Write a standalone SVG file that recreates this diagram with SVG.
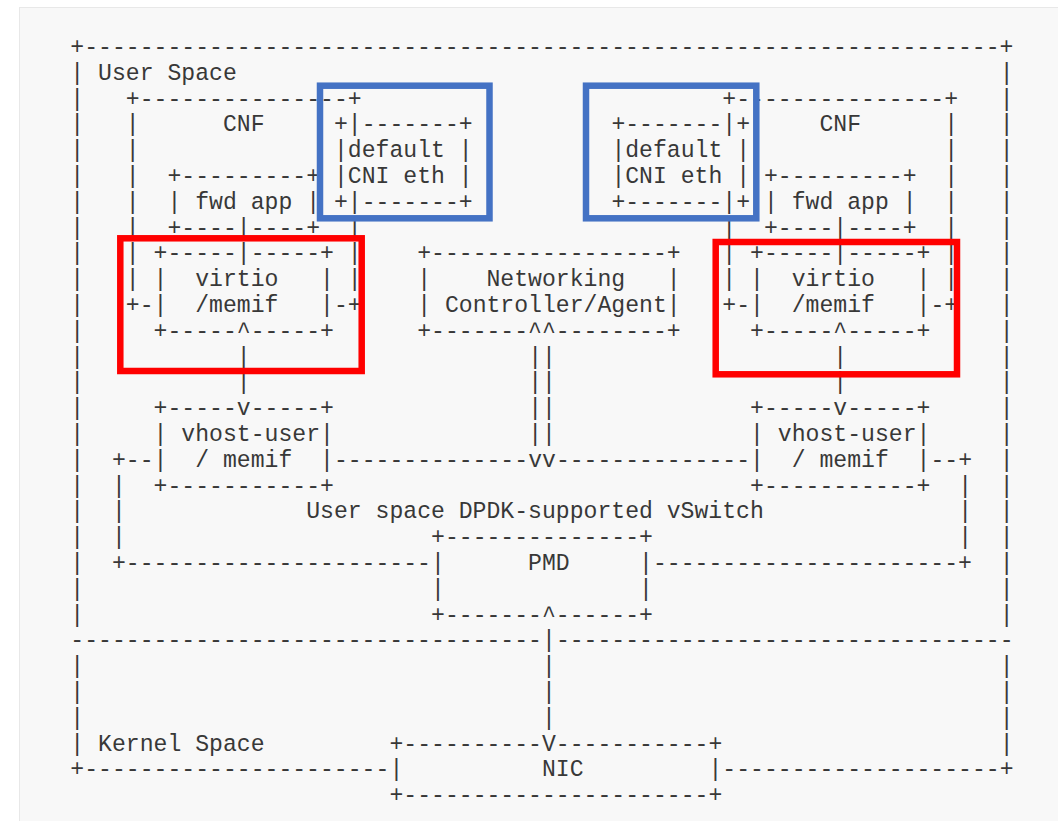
<svg xmlns="http://www.w3.org/2000/svg" width="1058" height="821" viewBox="0 0 1058 821" xml:space="preserve">
<style>
text{font-family:"Liberation Mono","DejaVu Sans Mono",monospace;font-size:23.12px;fill:#383838;white-space:pre}
.hl{fill:none;stroke-width:6.5}
.blue{stroke:#4472C4}
.red{stroke:#FF0000}
</style>
<rect x="0" y="0" width="1058" height="821" fill="#ffffff"/>
<rect x="19.5" y="7.5" width="1045" height="820" fill="#f8f8f8" stroke="#e8e8e8"/>
<g id="frame">
<text x="70.37" y="54">+------------------------------------------------------------------+</text>
<text x="98.11" y="79.8">User Space</text>
<text x="98.11" y="750.6">Kernel Space</text>
<text><tspan x="70.37" y="79.8">|</tspan><tspan x="70.37" y="105.6">|</tspan><tspan x="70.37" y="131.4">|</tspan><tspan x="70.37" y="157.2">|</tspan><tspan x="70.37" y="183">|</tspan><tspan x="70.37" y="208.8">|</tspan><tspan x="70.37" y="234.6">|</tspan><tspan x="70.37" y="260.4">|</tspan><tspan x="70.37" y="286.2">|</tspan><tspan x="70.37" y="312">|</tspan><tspan x="70.37" y="337.8">|</tspan><tspan x="70.37" y="363.6">|</tspan><tspan x="70.37" y="389.4">|</tspan><tspan x="70.37" y="415.2">|</tspan><tspan x="70.37" y="441">|</tspan><tspan x="70.37" y="466.8">|</tspan><tspan x="70.37" y="492.6">|</tspan><tspan x="70.37" y="518.4">|</tspan><tspan x="70.37" y="544.2">|</tspan><tspan x="70.37" y="570">|</tspan><tspan x="70.37" y="595.8">|</tspan><tspan x="70.37" y="621.6">|</tspan><tspan x="70.37" y="673.2">|</tspan><tspan x="70.37" y="699">|</tspan><tspan x="70.37" y="724.8">|</tspan><tspan x="70.37" y="750.6">|</tspan></text>
<text><tspan x="999.79" y="79.8">|</tspan><tspan x="999.79" y="105.6">|</tspan><tspan x="999.79" y="131.4">|</tspan><tspan x="999.79" y="157.2">|</tspan><tspan x="999.79" y="183">|</tspan><tspan x="999.79" y="208.8">|</tspan><tspan x="999.79" y="234.6">|</tspan><tspan x="999.79" y="260.4">|</tspan><tspan x="999.79" y="286.2">|</tspan><tspan x="999.79" y="312">|</tspan><tspan x="999.79" y="337.8">|</tspan><tspan x="999.79" y="363.6">|</tspan><tspan x="999.79" y="389.4">|</tspan><tspan x="999.79" y="415.2">|</tspan><tspan x="999.79" y="441">|</tspan><tspan x="999.79" y="466.8">|</tspan><tspan x="999.79" y="492.6">|</tspan><tspan x="999.79" y="518.4">|</tspan><tspan x="999.79" y="544.2">|</tspan><tspan x="999.79" y="570">|</tspan><tspan x="999.79" y="595.8">|</tspan><tspan x="999.79" y="621.6">|</tspan><tspan x="999.79" y="673.2">|</tspan><tspan x="999.79" y="699">|</tspan><tspan x="999.79" y="724.8">|</tspan><tspan x="999.79" y="750.6">|</tspan></text>
<text x="70.37" y="647.4">----------------------------------</text>
<text x="555.89" y="647.4">---------------------------------</text>
<text x="70.37" y="776.4">+----------------------</text>
<text x="722.35" y="776.4">--------------------+</text>
</g>
<g id="cnf-left">
<text x="125.86" y="105.6">+---------------+</text>
<text x="222.96" y="131.4">CNF</text>
<text><tspan x="125.86" y="131.4">|</tspan><tspan x="125.86" y="157.2">|</tspan><tspan x="125.86" y="183">|</tspan><tspan x="125.86" y="208.8">|</tspan><tspan x="125.86" y="234.6">|</tspan><tspan x="125.86" y="260.4">|</tspan><tspan x="125.86" y="286.2">|</tspan><tspan x="125.86" y="312">+-</tspan></text>
<text><tspan x="347.81" y="234.6">|</tspan><tspan x="347.81" y="260.4">|</tspan><tspan x="347.81" y="286.2">|</tspan><tspan x="333.94" y="312">-+</tspan></text>
</g>
<g id="cni-left">
<text x="333.94" y="131.4">+|-------+</text>
<text x="333.94" y="157.2">|default |</text>
<text x="333.94" y="183">|CNI eth |</text>
<text x="333.94" y="208.8">+|-------+</text>
</g>
<g id="fwd-left">
<text x="167.47" y="183">+---------+</text>
<text x="167.47" y="208.8">| fwd app |</text>
<text x="167.47" y="234.6">+----|----+</text>
</g>
<g id="virtio-left">
<text x="153.60" y="260.4">+-----|-----+</text>
<text x="153.60" y="286.2">|  virtio   |</text>
<text x="153.60" y="312">|  /memif   |</text>
<text x="153.60" y="337.8">+-----^-----+</text>
</g>
<g id="vhost-left">
<text x="153.60" y="415.2">+-----v-----+</text>
<text x="153.60" y="441">| vhost-user|</text>
<text x="153.60" y="466.8">|  / memif  |</text>
<text x="153.60" y="492.6">+-----------+</text>
</g>
<g id="networking-controller">
<text x="417.17" y="260.4">+-----------------+</text>
<text x="417.17" y="286.2">|    Networking   |</text>
<text x="417.17" y="312">| Controller/Agent|</text>
<text x="417.17" y="337.8">+-------^^--------+</text>
</g>
<g id="cnf-right">
<text x="722.35" y="105.6">+---------------+</text>
<text x="819.46" y="131.4">CNF</text>
<text><tspan x="944.31" y="131.4">|</tspan><tspan x="944.31" y="157.2">|</tspan><tspan x="944.31" y="183">|</tspan><tspan x="944.31" y="208.8">|</tspan><tspan x="944.31" y="234.6">|</tspan><tspan x="944.31" y="260.4">|</tspan><tspan x="944.31" y="286.2">|</tspan><tspan x="930.43" y="312">-+</tspan></text>
<text><tspan x="722.35" y="234.6">|</tspan><tspan x="722.35" y="260.4">|</tspan><tspan x="722.35" y="286.2">|</tspan><tspan x="722.35" y="312">+-</tspan></text>
</g>
<g id="cni-right">
<text x="611.38" y="131.4">+-------|+</text>
<text x="611.38" y="157.2">|default |</text>
<text x="611.38" y="183">|CNI eth |</text>
<text x="611.38" y="208.8">+-------|+</text>
</g>
<g id="fwd-right">
<text x="763.97" y="183">+---------+</text>
<text x="763.97" y="208.8">| fwd app |</text>
<text x="763.97" y="234.6">+----|----+</text>
</g>
<g id="virtio-right">
<text x="750.10" y="260.4">+-----|-----+</text>
<text x="750.10" y="286.2">|  virtio   |</text>
<text x="750.10" y="312">|  /memif   |</text>
<text x="750.10" y="337.8">+-----^-----+</text>
</g>
<g id="vhost-right">
<text x="750.10" y="415.2">+-----v-----+</text>
<text x="750.10" y="441">| vhost-user|</text>
<text x="750.10" y="466.8">|  / memif  |</text>
<text x="750.10" y="492.6">+-----------+</text>
</g>
<g id="vswitch">
<text x="111.99" y="466.8">+--</text>
<text x="930.43" y="466.8">--+</text>
<text x="333.94" y="466.8">--------------</text>
<text x="555.89" y="466.8">--------------</text>
<text><tspan x="111.99" y="492.6">|</tspan><tspan x="111.99" y="518.4">|</tspan><tspan x="111.99" y="544.2">|</tspan></text>
<text><tspan x="958.18" y="492.6">|</tspan><tspan x="958.18" y="518.4">|</tspan><tspan x="958.18" y="544.2">|</tspan></text>
<text x="306.19" y="518.4">User space DPDK-supported vSwitch</text>
<text x="111.99" y="570">+----------------------</text>
<text x="653.00" y="570">----------------------+</text>
</g>
<g id="pmd">
<text x="431.04" y="544.2">+--------------+</text>
<text x="431.04" y="570">|      PMD     |</text>
<text x="431.04" y="595.8">|              |</text>
<text x="431.04" y="621.6">+-------^------+</text>
</g>
<g id="nic">
<text x="389.43" y="750.6">+----------V-----------+</text>
<text x="389.43" y="776.4">|          NIC         |</text>
<text x="389.43" y="802.2">+----------------------+</text>
</g>
<g id="connectors">
<text><tspan x="236.83" y="363.6">|</tspan><tspan x="236.83" y="389.4">|</tspan></text>
<text><tspan x="833.33" y="363.6">|</tspan><tspan x="833.33" y="389.4">|</tspan></text>
<text><tspan x="528.15" y="363.6">||</tspan><tspan x="528.15" y="389.4">||</tspan><tspan x="528.15" y="415.2">||</tspan><tspan x="528.15" y="441">||</tspan><tspan x="528.15" y="466.8">vv</tspan></text>
<text><tspan x="542.02" y="647.4">|</tspan><tspan x="542.02" y="673.2">|</tspan><tspan x="542.02" y="699">|</tspan><tspan x="542.02" y="724.8">|</tspan></text>
</g>
<g id="highlights">
<rect class="hl blue" x="320" y="85.7" width="169.5" height="132.6"/>
<rect class="hl blue" x="586" y="85.7" width="170.3" height="132.6"/>
<rect class="hl red" x="120.3" y="238.3" width="241.4" height="132.7"/>
<rect class="hl red" x="715.7" y="242" width="241.3" height="132.3"/>
</g>
</svg>
